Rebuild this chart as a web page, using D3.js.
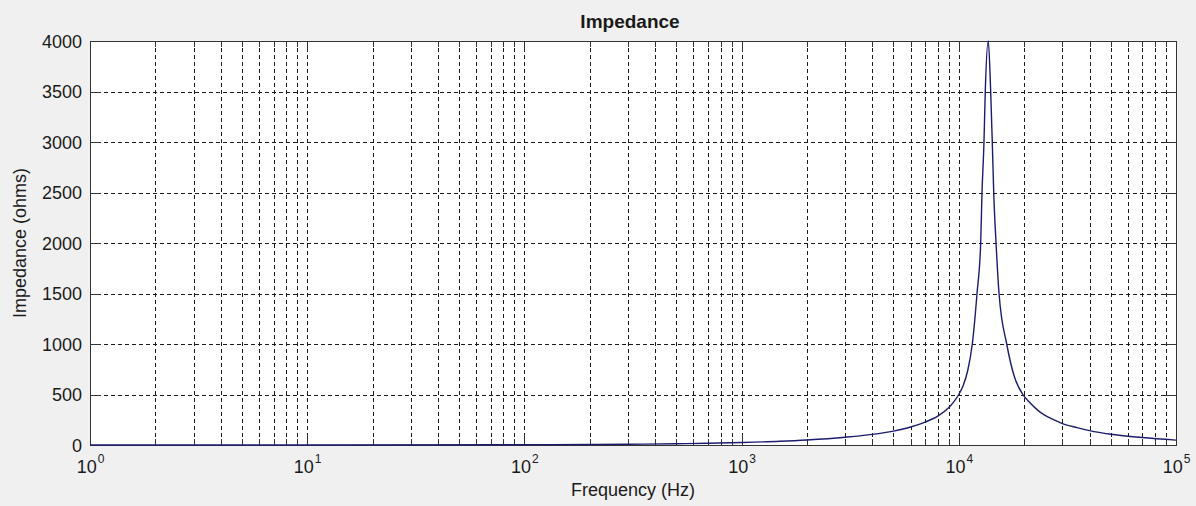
<!DOCTYPE html>
<html>
<head>
<meta charset="utf-8">
<script src="https://cdn.jsdelivr.net/npm/d3@7"></script>
<style>
  html, body { margin: 0; padding: 0; background: #f0f0f0; }
  svg { display: block; }
  text { font-family: "Liberation Sans", Arial, sans-serif; fill: #1a1a1a; }
</style>
</head>
<body>
<svg id="chart" width="1196" height="506"></svg>
<script>
// Frequency samples (Hz) and the measured impedance magnitude (ohms)
const frequency = [1, 10, 100, 200, 300, 500, 700, 1000, 1500, 2000, 3000, 4000, 5000,
  6000, 7000, 8000, 9000, 9500, 10000, 10500, 11000, 11540, 12130, 12610, 12790, 13060,
  13240, 13670, 14020, 14260, 14480, 14840, 15320, 16620, 18000, 19650, 21000, 23500,
  27000, 30000, 35000, 40000, 50000, 70000, 100000];
const impedance = [0.03, 0.25, 2.5, 5, 7.5, 12.5, 17.5, 25, 37, 50, 77, 105, 138,
  178, 227, 285, 372, 430, 500, 595, 740, 1000, 1500, 2000, 2500, 3000,
  3500, 4000, 3500, 3000, 2500, 2000, 1500, 1000, 680, 505, 430, 330,
  255, 212, 172, 142, 106, 74, 48];

const yTicks = [0, 500, 1000, 1500, 2000, 2500, 3000, 3500, 4000];
const xExponents = [0, 1, 2, 3, 4, 5];
const titleText = "Impedance";
const xLabelText = "Frequency (Hz)";
const yLabelText = "Impedance (ohms)";

const svg = d3.select("#chart");
const W = 1196, H = 506;
const plot = { left: 90, right: 1176, top: 41, bottom: 445 };

const x = d3.scaleLog().domain([1, 1e5]).range([plot.left, plot.right]);
const y = d3.scaleLinear().domain([0, 4000]).range([plot.bottom, plot.top]);

const majors = xExponents.map(e => Math.pow(10, e));
const minors = [];
for (let e = 0; e < 5; e++) for (let m = 2; m <= 9; m++) minors.push(m * Math.pow(10, e));

// figure background and white axes area
svg.append("rect").attr("width", W).attr("height", H).attr("fill", "#f0f0f0");
svg.append("rect")
  .attr("x", plot.left).attr("y", plot.top)
  .attr("width", plot.right - plot.left).attr("height", plot.bottom - plot.top)
  .attr("fill", "#ffffff");

// dashed grid
const grid = svg.append("g").attr("stroke", "#1a1a1a").attr("stroke-width", 1)
  .attr("stroke-dasharray", "4,3").attr("shape-rendering", "crispEdges");
grid.selectAll("line.v")
  .data(majors.concat(minors).filter(v => v > 1 && v < 1e5))
  .join("line").attr("class", "v")
  .attr("x1", d => Math.round(x(d)) + 0.5).attr("x2", d => Math.round(x(d)) + 0.5)
  .attr("y1", plot.top).attr("y2", plot.bottom);
grid.selectAll("line.h")
  .data(yTicks.filter(v => v > 0 && v < 4000))
  .join("line").attr("class", "h")
  .attr("y1", d => Math.round(y(d)) + 0.5).attr("y2", d => Math.round(y(d)) + 0.5)
  .attr("x1", plot.left).attr("x2", plot.right);

function styleAxis(g) {
  g.selectAll("path.domain").attr("stroke", "#333").attr("stroke-width", 1);
  g.selectAll(".tick line").attr("stroke", "#333").attr("stroke-width", 1);
  g.attr("shape-rendering", "crispEdges");
}

// axes with inward ticks on all four sides
const yLeft = svg.append("g").attr("transform", `translate(${plot.left},0)`)
  .call(d3.axisLeft(y).tickValues(yTicks).tickFormat(d3.format("d"))
    .tickSize(-11).tickSizeOuter(0).tickPadding(8));
yLeft.call(styleAxis);
yLeft.selectAll("text").attr("font-size", 18).style("font-family", "Liberation Sans, Arial, sans-serif")
  .attr("fill", "#1a1a1a").attr("dy", "0.35em");

const yRight = svg.append("g").attr("transform", `translate(${plot.right},0)`)
  .call(d3.axisRight(y).tickValues(yTicks).tickSize(-11).tickSizeOuter(0).tickFormat(""));
yRight.call(styleAxis);

const xTopMinor = svg.append("g").attr("transform", `translate(0,${plot.top})`)
  .call(d3.axisTop(x).tickValues(minors).tickSize(-6).tickSizeOuter(0).tickFormat(""));
xTopMinor.call(styleAxis);
const xTop = svg.append("g").attr("transform", `translate(0,${plot.top})`)
  .call(d3.axisTop(x).tickValues(majors).tickSize(-11).tickSizeOuter(0).tickFormat(""));
xTop.call(styleAxis);

const xBottomMinor = svg.append("g").attr("transform", `translate(0,${plot.bottom})`)
  .call(d3.axisBottom(x).tickValues(minors).tickSize(-6).tickSizeOuter(0).tickFormat(""));
xBottomMinor.call(styleAxis);
const xBottom = svg.append("g").attr("transform", `translate(0,${plot.bottom})`)
  .call(d3.axisBottom(x).tickValues(majors).tickSize(-11).tickSizeOuter(0));
xBottom.call(styleAxis);

// power-of-ten tick labels: "10" with a raised exponent
xBottom.selectAll(".tick text").each(function(d) {
  const t = d3.select(this);
  const e = Math.round(Math.log10(d));
  t.text(null).attr("y", 28).attr("dy", null)
    .attr("font-size", 18).attr("fill", "#1a1a1a")
    .attr("text-anchor", "middle")
    .style("font-family", "Liberation Sans, Arial, sans-serif");
  t.append("tspan").text("10");
  t.append("tspan").attr("font-size", 12).attr("dy", -10).attr("dx", 1).text(e);
});

// impedance curve
svg.append("clipPath").attr("id", "plot-clip")
  .append("rect").attr("x", plot.left).attr("y", plot.top - 1)
  .attr("width", plot.right - plot.left).attr("height", plot.bottom - plot.top + 2);

const points = frequency.map((f, i) => [f, impedance[i]]);
const line = d3.line()
  .x(d => x(d[0]))
  .y(d => y(d[1]))
  .curve(d3.curveMonotoneX);

svg.append("path")
  .datum(points)
  .attr("clip-path", "url(#plot-clip)")
  .attr("fill", "none")
  .attr("stroke", "#1c1c6e")
  .attr("stroke-width", 1.4)
  .attr("d", line);

// title and axis labels
svg.append("text")
  .attr("x", (plot.left + plot.right) / 2 - 3).attr("y", 28)
  .attr("text-anchor", "middle").attr("font-size", 19).attr("font-weight", "bold")
  .text(titleText);

svg.append("text")
  .attr("x", (plot.left + plot.right) / 2).attr("y", 496)
  .attr("text-anchor", "middle").attr("font-size", 18)
  .text(xLabelText);

svg.append("text")
  .attr("transform", `translate(26,${(plot.top + plot.bottom) / 2}) rotate(-90)`)
  .attr("text-anchor", "middle").attr("font-size", 18)
  .text(yLabelText);
</script>
</body>
</html>
